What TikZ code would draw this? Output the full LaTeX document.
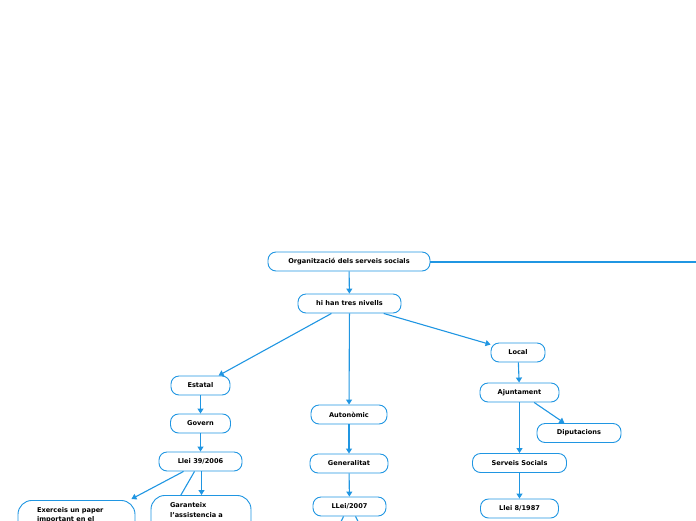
\documentclass[tikz,border=0pt]{standalone}
\usepackage{fontspec}
\setmainfont{DejaVu Sans}
\usetikzlibrary{arrows.meta}
\definecolor{mapblue}{RGB}{32,150,226}
\tikzset{
	topic/.style={draw=mapblue,line width=0.9pt,fill=white,rounded corners=8pt,
		minimum height=19pt,inner sep=0pt,font=\fontsize{6.6}{9}\selectfont\bfseries},
	bigtopic/.style={topic,rounded corners=14pt,anchor=north,align=left,
		inner xsep=19pt,inner ysep=0pt,text depth=40pt},
	link/.style={draw=mapblue,line width=1.1pt,-{Triangle[width=6pt,length=5pt]}},
	plainlink/.style={draw=mapblue,line width=1.1pt}
}
\begin{document}
\begin{tikzpicture}[x=1pt,y=-1pt]
\useasboundingbox (0,0) rectangle (696,520);
\clip (0,0) rectangle (696,520);
%top
\node[topic,minimum width=162pt] (org) at (349,261.5) {Organització dels serveis socials};
\node[topic,minimum width=103pt] (nivells) at (349.5,303.5) {hi han tres nivells};
\coordinate (far) at (760,262);
\draw[plainlink,line width=1.4pt] ([yshift=-0.5pt]org.east) -- (far);
%three levels
\node[topic,minimum width=59pt] (estatal) at (200.5,385.5) {Estatal};
\node[topic,minimum width=76pt] (autonomic) at (349,414.5) {Autonòmic};
\node[topic,minimum width=54pt] (local) at (518,352.5) {Local};
%estatal
\node[topic,minimum width=60pt] (govern) at (200.5,423.5) {Govern};
\node[topic,minimum width=83pt] (llei39) at (200.5,461.5) {Llei 39/2006};
\node[topic,bigtopic,text width=79pt,text height=12pt] (exerceis) at (76.5,500) {Exerceis un paper\\important en el};
\coordinate (hidden) at (155,540);
\draw[plainlink] ([xshift=-6pt]llei39.south) -- (hidden);
\node[topic,bigtopic,text width=62pt,text height=12pt,
	font=\fontsize{6.6}{9.6}\selectfont\bfseries] (garanteix) at (201,495) {Garanteix\\l'assistencia a\\les persones};
%autonomic
\node[topic,minimum width=78pt] (generalitat) at (349,463.5) {Generalitat};
\node[topic,minimum width=73pt] (llei2007) at (349.5,506.5) {LLei/2007};
\coordinate (down left) at (330,545);
\coordinate (down right) at (370,545);
\draw[plainlink] ([xshift=-6pt]llei2007.south) -- (down left);
\draw[plainlink] ([xshift=6pt]llei2007.south) -- (down right);
%local
\node[topic,minimum width=79pt] (ajuntament) at (519.5,392.5) {Ajuntament};
\node[topic,minimum width=84pt] (diputacions) at (579,433) {Diputacions};
\node[topic,minimum width=94pt] (serveis) at (519.5,463) {Serveis Socials};
\node[topic,minimum width=78pt] (llei8) at (519.5,508.5) {Llei 8/1987};
%arrows
\foreach \from/\to in {org/nivells,nivells/estatal,nivells/autonomic,nivells/local,
	estatal/govern,govern/llei39,autonomic/generalitat,generalitat/llei2007,
	local/ajuntament,ajuntament/diputacions,ajuntament/serveis,serveis/llei8}
	\draw[link] (\from) -- (\to);
\draw[link] ([xshift=1pt]llei39.south) -- ([xshift=1pt]llei39.south |- garanteix.north);
\draw[link] ([xshift=-17pt]llei39.south) -- ([xshift=-4pt,yshift=1pt]exerceis.north east);
\end{tikzpicture}
\end{document}
